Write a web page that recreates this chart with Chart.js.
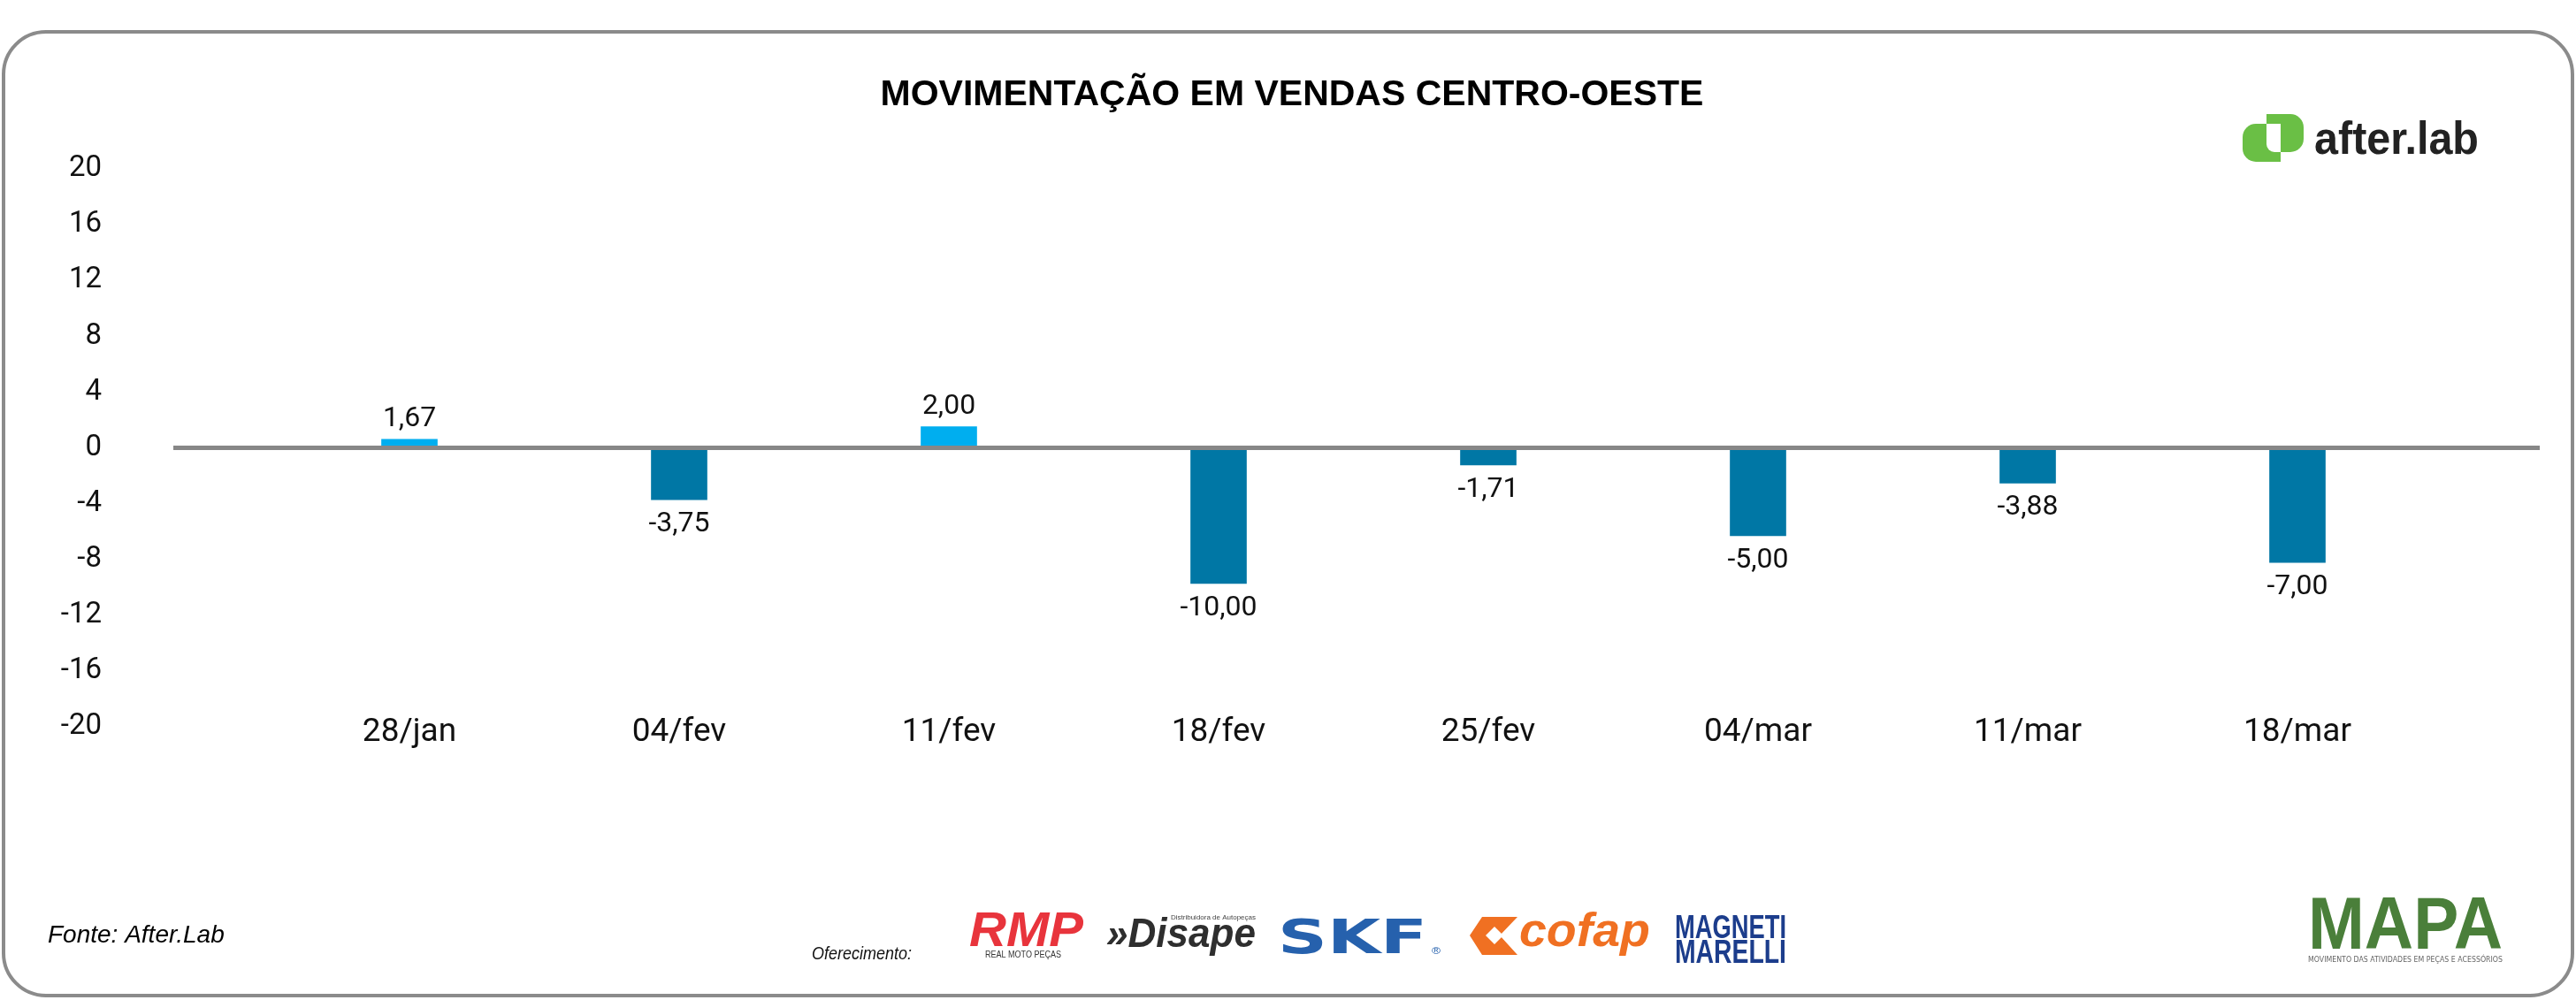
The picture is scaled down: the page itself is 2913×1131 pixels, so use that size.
<!DOCTYPE html>
<html>
<head>
<meta charset="utf-8">
<title>Movimentação em vendas Centro-Oeste</title>
<script src="https://cdn.jsdelivr.net/npm/chart.js@4.4.1/dist/chart.umd.min.js"></script>
<style>
  html, body { margin: 0; padding: 0; background: #fff; }
  canvas { display: block; }
</style>
</head>
<body>
<canvas id="chart" width="2913" height="1131"></canvas>
<script>
const weeks = ['28/jan', '04/fev', '11/fev', '18/fev', '25/fev', '04/mar', '11/mar', '18/mar'];
// bar heights as drawn in the picture (the bars don't follow the printed labels exactly)
const barValues = [0.62, -3.72, 1.52, -9.72, -1.23, -6.30, -2.53, -8.22];
const valueLabels = ['1,67', '-3,75', '2,00', '-10,00', '-1,71', '-5,00', '-3,88', '-7,00'];
const yTicks = [20, 16, 12, 8, 4, 0, -4, -8, -12, -16, -20];

const TITLE = 'MOVIMENTAÇÃO EM VENDAS CENTRO-OESTE';
const SOURCE = 'Fonte: After.Lab';

const POS_COLOR = '#00aeef';
const NEG_COLOR = '#0077a5';
const TXT = '#111';

// squeeze or stretch a text horizontally so it fills a given width
function fitText(ctx, text, x, y, w, font, color) {
  ctx.save();
  ctx.font = font;
  ctx.fillStyle = color;
  ctx.textAlign = 'left';
  ctx.textBaseline = 'alphabetic';
  const m = ctx.measureText(text).width;
  ctx.translate(x, y);
  ctx.scale(w / m, 1);
  ctx.fillText(text, 0, 0);
  ctx.restore();
}

const framePlugin = {
  id: 'frame',
  beforeDraw(chart) {
    // x labels sit slightly inside the plot area, don't let the scale clip them
    chart.scales.x._computeLabelArea = () => null;

    const ctx = chart.ctx;
    ctx.save();
    ctx.fillStyle = '#fff';
    ctx.fillRect(0, 0, chart.width, chart.height);

    // rounded border
    ctx.strokeStyle = '#8b8b8b';
    ctx.lineWidth = 4;
    ctx.beginPath();
    ctx.roundRect(4, 36, 2905, 1090, 48);
    ctx.stroke();

    // title
    ctx.fillStyle = '#000';
    ctx.font = 'bold 41px "Liberation Sans", Arial, sans-serif';
    ctx.textAlign = 'center';
    ctx.textBaseline = 'middle';
    ctx.fillText(TITLE, 1461, 108);

    // after.lab logo
    ctx.fillStyle = '#6abf45';
    ctx.beginPath();
    ctx.roundRect(2536, 140, 43, 43, [15, 0, 0, 15]);
    ctx.fill();
    ctx.beginPath();
    ctx.roundRect(2563, 129, 42, 43, [0, 15, 15, 0]);
    ctx.fill();
    ctx.fillStyle = '#fff';
    ctx.beginPath();
    ctx.roundRect(2563, 140, 16, 32, [0, 0, 0, 9]);
    ctx.fill();
    fitText(ctx, 'after.lab', 2617, 174, 186, 'bold 52px "Liberation Sans", Arial, sans-serif', '#222');

    // footer
    ctx.fillStyle = '#000';
    ctx.textAlign = 'left';
    ctx.textBaseline = 'middle';
    ctx.font = 'italic 28px "Liberation Sans", Arial, sans-serif';
    ctx.fillText(SOURCE, 54, 1058);
    fitText(ctx, 'Oferecimento:', 918, 1085, 113, 'italic 20px "Liberation Sans", Arial, sans-serif', '#111');

    // sponsor logos (approximated with text)
    fitText(ctx, 'RMP', 1096, 1070, 129, 'bold italic 55px "Liberation Sans", Arial, sans-serif', '#e8343c');
    fitText(ctx, 'REAL MOTO PEÇAS', 1114, 1083, 86, '10px "Liberation Sans", Arial, sans-serif', '#333');

    fitText(ctx, '»Disape', 1251, 1071, 169, 'bold italic 46px "Liberation Sans", Arial, sans-serif', '#2e2e2e');
    fitText(ctx, 'Distribuidora de Autopeças', 1324, 1040, 96, '8px "Liberation Sans", Arial, sans-serif', '#444');

    fitText(ctx, 'SKF', 1445, 1078, 169, 'bold 54px "DejaVu Sans", sans-serif', '#2661ad');
    fitText(ctx, '®', 1619, 1079, 10, '10px "Liberation Sans", Arial, sans-serif', '#2661ad');

    // cofap chevron
    ctx.fillStyle = '#f07022';
    ctx.beginPath();
    ctx.moveTo(1676, 1037); ctx.lineTo(1716, 1037); ctx.lineTo(1696, 1058);
    ctx.lineTo(1716, 1080); ctx.lineTo(1676, 1080); ctx.lineTo(1662, 1058);
    ctx.closePath();
    ctx.fill();
    ctx.fillStyle = '#fff';
    ctx.beginPath();
    ctx.moveTo(1680, 1058); ctx.lineTo(1690, 1048); ctx.lineTo(1700, 1058); ctx.lineTo(1690, 1068);
    ctx.closePath();
    ctx.fill();
    fitText(ctx, 'cofap', 1718, 1070, 148, 'bold italic 54px "Liberation Sans", Arial, sans-serif', '#f07022');

    fitText(ctx, 'MAGNETI', 1894, 1061, 126, 'bold 37px "Liberation Sans", Arial, sans-serif', '#1c3d8c');
    fitText(ctx, 'MARELLI', 1894, 1089, 126, 'bold 37px "Liberation Sans", Arial, sans-serif', '#1c3d8c');

    // MAPA logo
    const g = ctx.createLinearGradient(2610, 1013, 2830, 1073);
    g.addColorStop(0, '#4a7f3a');
    g.addColorStop(0.35, '#6d9a62');
    g.addColorStop(0.6, '#5d8fc0');
    g.addColorStop(1, '#2a58a6');
    fitText(ctx, 'MAPA', 2610, 1073, 220, 'bold 84px "Liberation Sans", Arial, sans-serif', g);
    fitText(ctx, 'MOVIMENTO DAS ATIVIDADES EM PEÇAS E ACESSÓRIOS', 2610, 1088, 220, '8px "DejaVu Sans", sans-serif', '#666');
    ctx.restore();
  }
};

const zeroLinePlugin = {
  id: 'zeroLine',
  afterDatasetsDraw(chart) {
    const ctx = chart.ctx;
    const y = chart.scales.y.getPixelForValue(0);
    ctx.save();
    ctx.strokeStyle = '#878787';
    ctx.lineWidth = 5;
    ctx.beginPath();
    ctx.moveTo(196, y);
    ctx.lineTo(2872, y);
    ctx.stroke();
    ctx.restore();
  }
};

const valueLabelPlugin = {
  id: 'valueLabels',
  afterDatasetsDraw(chart) {
    const ctx = chart.ctx;
    const meta = chart.getDatasetMeta(0);
    ctx.save();
    ctx.font = '32px Roboto, "Liberation Sans", sans-serif';
    ctx.fillStyle = TXT;
    ctx.textAlign = 'center';
    ctx.textBaseline = 'middle';
    meta.data.forEach((bar, i) => {
      const v = barValues[i];
      const y = v >= 0 ? bar.y - 23 : bar.y + 28;
      ctx.fillText(valueLabels[i], bar.x, y);
    });
    ctx.restore();
  }
};

new Chart(document.getElementById('chart'), {
  type: 'bar',
  data: {
    labels: weeks,
    datasets: [{
      data: barValues,
      backgroundColor: ctx => (ctx.raw >= 0 ? POS_COLOR : NEG_COLOR),
      borderWidth: 0,
      barThickness: 63
    }]
  },
  options: {
    responsive: false,
    animation: false,
    devicePixelRatio: 1,
    layout: { padding: { left: 0, right: 162.5, top: 191, bottom: 249 } },
    plugins: {
      legend: { display: false },
      tooltip: { enabled: false }
    },
    scales: {
      x: {
        grid: { display: false, drawTicks: false },
        border: { display: false },
        afterFit: scale => { scale.height = 60; },
        ticks: {
          color: TXT,
          font: { family: 'Roboto', size: 37 },
          padding: -15,
          maxRotation: 0,
          autoSkip: false
        }
      },
      y: {
        min: Math.min(...yTicks),
        max: Math.max(...yTicks),
        grid: { display: false, drawTicks: false },
        border: { display: false },
        afterFit: scale => {
          scale.width = 310.5;
          // the big label gap would otherwise be added above and below the plot
          scale.paddingTop = 0;
          scale.paddingBottom = 0;
        },
        afterBuildTicks: scale => { scale.ticks = yTicks.map(v => ({ value: v })); },
        ticks: {
          color: TXT,
          font: { family: 'Roboto', size: 33 },
          padding: 195.5
        }
      }
    }
  },
  plugins: [framePlugin, zeroLinePlugin, valueLabelPlugin]
});
</script>
</body>
</html>
